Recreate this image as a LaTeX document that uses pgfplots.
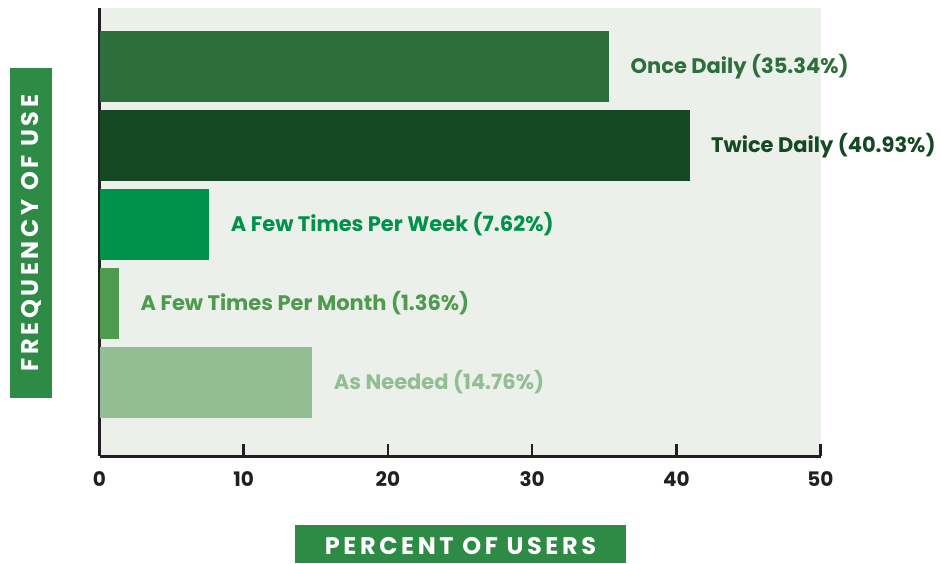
\documentclass[border=0pt]{standalone}
\usepackage{pgfplots}
\pgfplotsset{compat=1.18}
\usepackage{fontspec}
\setmainfont{Poppins}
\definecolor{bgc}{HTML}{EBF0EA}
\definecolor{cA}{HTML}{2E6E3C}
\definecolor{cB}{HTML}{174824}
\definecolor{cC}{HTML}{00924A}
\definecolor{cD}{HTML}{4E9A4E}
\definecolor{cE}{HTML}{93BD93}
\definecolor{boxc}{HTML}{2E8B45}
\definecolor{axisc}{HTML}{231F20}
\begin{document}
\begin{tikzpicture}[x=1pt,y=1pt]
\path[use as bounding box] (0,0) rectangle (941,563);
\begin{axis}[
  at={(99.5pt,107pt)}, anchor=south west,
  scale only axis, width=721pt, height=448pt,
  xmin=0, xmax=50, ymin=0.2595, ymax=5.930, y dir=reverse,
  xbar, bar width=71pt, bar shift=0pt,
  axis x line*=bottom, axis y line*=left,
  axis line style={line width=3pt, color=axisc, -},
  xtick={0,10,...,50}, ytick=\empty,
  tick style={line width=2.5pt, color=axisc},
  major tick length=12pt, tick align=inside,
  xticklabel style={font=\fontsize{20}{20}\selectfont\bfseries, text=axisc, yshift=-12pt},
  /pgf/number format/assume math mode=true,
  axis background/.style={fill=bgc},
  nodes near coords align=horizontal,
  every node near coord/.append style={anchor=west, xshift=18pt, font=\fontsize{21}{22}\selectfont\bfseries},
  clip=false,
]
\addplot[fill=cA, draw=none, nodes near coords={Once Daily (35.34\%)}, nodes near coords style={text=cA}] coordinates {(35.34,1)};
\addplot[fill=cB, draw=none, nodes near coords={Twice Daily (40.93\%)}, nodes near coords style={text=cB}] coordinates {(40.93,2)};
\addplot[fill=cC, draw=none, nodes near coords={A Few Times Per Week (7.62\%)}, nodes near coords style={text=cC}] coordinates {(7.62,3)};
\addplot[fill=cD, draw=none, nodes near coords={A Few Times Per Month (1.36\%)}, nodes near coords style={text=cD}] coordinates {(1.36,4)};
\addplot[fill=cE, draw=none, nodes near coords={As Needed (14.76\%)}, nodes near coords style={text=cE}] coordinates {(14.76,5)};
\end{axis}
\fill[boxc] (10,165) rectangle (52,495);
\node[rotate=90, text=white, font=\fontsize{24}{24}\selectfont\bfseries\addfontfeatures{LetterSpace=15}] at (31,330) {FREQUENCY OF USE};
\fill[boxc] (295,0) rectangle (626,38);
\node[text=white, font=\fontsize{24}{24}\selectfont\bfseries\addfontfeatures{LetterSpace=15}] at (460.5,17) {PERCENT OF USERS};
\end{tikzpicture}
\end{document}
